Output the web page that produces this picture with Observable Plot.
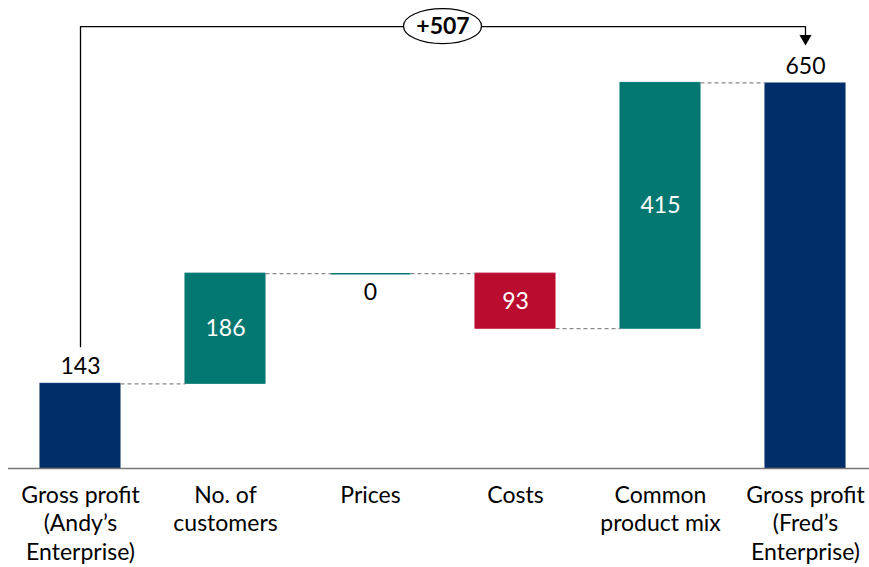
<!DOCTYPE html>
<html>
<head>
<meta charset="utf-8">
<script src="https://cdn.jsdelivr.net/npm/d3@7"></script>
<script src="https://cdn.jsdelivr.net/npm/@observablehq/plot@0.6"></script>
<style>
  html, body { margin: 0; padding: 0; background: #fff; }
  #chart svg { display: block; }
</style>
</head>
<body>
<div id="chart"></div>
<script>
// ---- data ----
const categories = [
  "Gross profit\n(Andy’s\nEnterprise)",
  "No. of\ncustomers",
  "Prices",
  "Costs",
  "Common\nproduct mix",
  "Gross profit\n(Fred’s\nEnterprise)"
];
const values = [143, 186, 0, -93, 415, 650];
const kinds = ["total", "delta", "delta", "delta", "delta", "total"];
const totalChangeLabel = "+507";

// ---- style constants ----
const NAVY = "#012d69", TEAL = "#037870", RED = "#ba0c2f";
const FONT = "Lato, 'DejaVu Sans', sans-serif";
const half = 0.276;          // half bar width in category units
const bracketLevel = 746;    // annotation bracket height (value units)

// ---- build waterfall rows ----
let running = 0;
const rows = categories.map((c, i) => {
  const v = values[i];
  let start, end;
  if (kinds[i] === "total") { start = 0; end = v; running = v; }
  else { start = running; end = running + v; running = end; }
  const color = kinds[i] === "total" ? NAVY : (v < 0 ? RED : TEAL);
  return {i, c, v, start, end, lo: Math.min(start, end), hi: Math.max(start, end), color, label: String(Math.abs(v)), kind: kinds[i]};
});
const connectors = rows.slice(0, -1).map(r => ({x1: r.i + half, x2: r.i + 1 - half, y: r.end}));

const aboveLabels = rows.filter(r => r.kind === "total");
const insideLabels = rows.filter(r => r.kind === "delta" && r.v !== 0);
const zeroRows = rows.filter(r => r.kind === "delta" && r.v === 0);

const first = rows[0], last = rows[rows.length - 1];
const mid = [{x: (first.i + last.i) / 2, y: bracketLevel}];

const ellipseMark = Plot.dot(mid, {
  x: "x", y: "y",
  render: (index, scales, values) => {
    const g = d3.create("svg:g");
    for (const i of index) {
      g.append("ellipse")
        .attr("cx", values.x[i]).attr("cy", values.y[i])
        .attr("rx", 39).attr("ry", 17.5)
        .attr("fill", "#fff").attr("stroke", "#000").attr("stroke-width", 1.3);
    }
    return g.node();
  }
});

const chart = Plot.plot({
  width: 869,
  height: 567,
  marginLeft: 8,
  marginRight: 0,
  marginTop: 0,
  marginBottom: 0,
  style: {fontFamily: FONT, background: "#fff"},
  x: {type: "linear", domain: [-0.5, 5.5], range: [7.5, 877.5], axis: null},
  y: {domain: [0, 650], range: [468, 83], axis: null},
  marks: [
    // bars
    Plot.rectY(rows, {x1: d => d.i - half, x2: d => d.i + half, y1: "lo", y2: "hi", fill: "color", stroke: "color", strokeWidth: 1}),
    // zero-height bars drawn as a thin line
    Plot.link(zeroRows, {x1: d => d.i - half, x2: d => d.i + half, y1: "end", y2: "end", stroke: TEAL, strokeWidth: 1.5}),
    // connectors
    Plot.link(connectors, {x1: "x1", x2: "x2", y1: "y", y2: "y", stroke: "#8a8a8a", strokeWidth: 1.2, strokeDasharray: "4,3"}),
    // baseline
    Plot.ruleY([0], {stroke: "#777", strokeWidth: 1.5}),
    // value labels
    Plot.text(aboveLabels, {x: "i", y: "end", text: "label", dy: -17, fontSize: 23, fill: "#000"}),
    Plot.text(insideLabels, {x: "i", y: d => (d.start + d.end) / 2, text: "label", fontSize: 23, fill: "#fff"}),
    Plot.text(zeroRows, {x: "i", y: "end", text: "label", dy: 19, fontSize: 23, fill: "#000"}),
    // category labels
    Plot.text(rows, {x: "i", y: 0, text: "c", dy: 15, lineAnchor: "top", lineHeight: 1.22, fontSize: 23, fill: "#000"}),
    // bracket
    Plot.ruleX([first], {x: "i", y1: () => bracketLevel, y2: "end", insetBottom: 36, stroke: "#000", strokeWidth: 1.3}),
    Plot.ruleY([bracketLevel], {x1: first.i, x2: last.i, stroke: "#000", strokeWidth: 1.3}),
    Plot.ruleX([last], {x: "i", y1: () => bracketLevel, y2: "end", insetBottom: 48, stroke: "#000", strokeWidth: 1.3}),
    Plot.dot([last], {x: "i", y: "end", dy: -45, symbol: "triangle", r: 4.5, rotate: 180, fill: "#000", stroke: "none"}),
    ellipseMark,
    Plot.text(mid, {x: "x", y: "y", text: () => totalChangeLabel, fontSize: 23, fontWeight: "bold", fill: "#000"})
  ]
});
document.getElementById("chart").appendChild(chart);
</script>
</body>
</html>
